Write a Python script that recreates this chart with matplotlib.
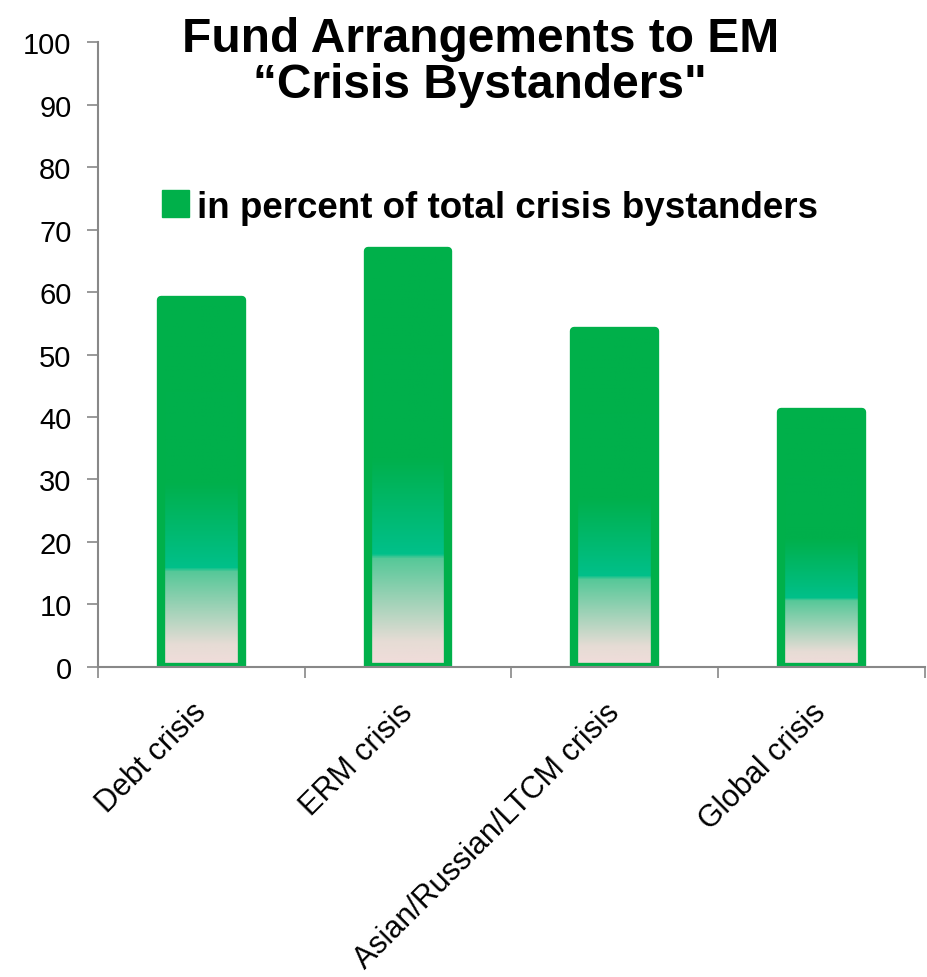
import matplotlib
matplotlib.use("Agg")
import matplotlib.pyplot as plt
import numpy as np
from matplotlib.colors import LinearSegmentedColormap
from matplotlib.patches import Patch

categories = ["Debt crisis", "ERM crisis", "Asian/Russian/LTCM crisis", "Global crisis"]
values = [58.7, 66.6, 53.8, 40.8]
series_name = "in percent of total crisis bystanders"
title = "Fund Arrangements to EM\n\u201cCrisis Bystanders\""

plt.rcParams['font.family'] = ['Liberation Sans', 'DejaVu Sans']

fig = plt.figure(figsize=(9.27, 9.78), dpi=100)
ax = fig.add_axes([0.1057, 0.317, 0.892, 0.639])

green = "#00B04A"
cmap = LinearSegmentedColormap.from_list("grad", [
    (0.0, "#F2DCDB"),
    (0.06, "#E6DCD5"),
    (0.26, "#55C898"),
    (0.27, "#00C08A"),
    (0.5, "#00B04C"),
    (1.0, "#00B04A"),
])

x = np.arange(len(categories))
width = 0.39
grad = np.linspace(0, 1, 256).reshape(-1, 1)
bars = ax.bar(x, values, width=width, facecolor="none", edgecolor=green,
              linewidth=6, joinstyle="round", zorder=2)
for xi, v, b in zip(x, values, bars):
    im = ax.imshow(grad, cmap=cmap, origin="lower", aspect="auto",
                   extent=(xi - width / 2, xi + width / 2, 0, v), zorder=1.5)
    im.set_clip_path(b)

ax.set_xlim(-0.5, len(categories) - 0.5)
ax.set_ylim(0, 100)
ax.set_yticks(np.arange(0, 101, 10))
ax.set_xticks(np.arange(-0.5, len(categories), 1.0))
ax.set_xticklabels([])
ax.set_xticks(x, minor=True)
ax.set_xticklabels(categories, minor=True, rotation=45, ha="right", va="center",
                   rotation_mode="anchor", fontsize=22)
ax.tick_params(axis="x", which="minor", length=0, pad=29)
ax.tick_params(axis="x", which="major", length=8, color="#888888", width=1.2)
ax.tick_params(axis="y", length=8, color="#888888", width=1.2, labelsize=21, pad=11)

for s in ["top", "right"]:
    ax.spines[s].set_visible(False)
for s in ["left", "bottom"]:
    ax.spines[s].set_color("#888888")
    ax.spines[s].set_linewidth(1.5)
    ax.spines[s].set_zorder(3)

fig.text(0.518, 0.983, title, ha="center", va="top", fontsize=34.5,
         fontweight="bold", linespacing=1.05)

leg = ax.legend(handles=[Patch(facecolor=green, edgecolor=green, label=series_name)],
                loc="center left", bbox_to_anchor=(0.077, 0.736), frameon=False,
                prop={"size": 26.5, "weight": "bold"}, handlelength=0.75,
                handleheight=0.75, handletextpad=0.2, borderaxespad=0,
                borderpad=0)

fig.savefig("out.png", dpi=100)
